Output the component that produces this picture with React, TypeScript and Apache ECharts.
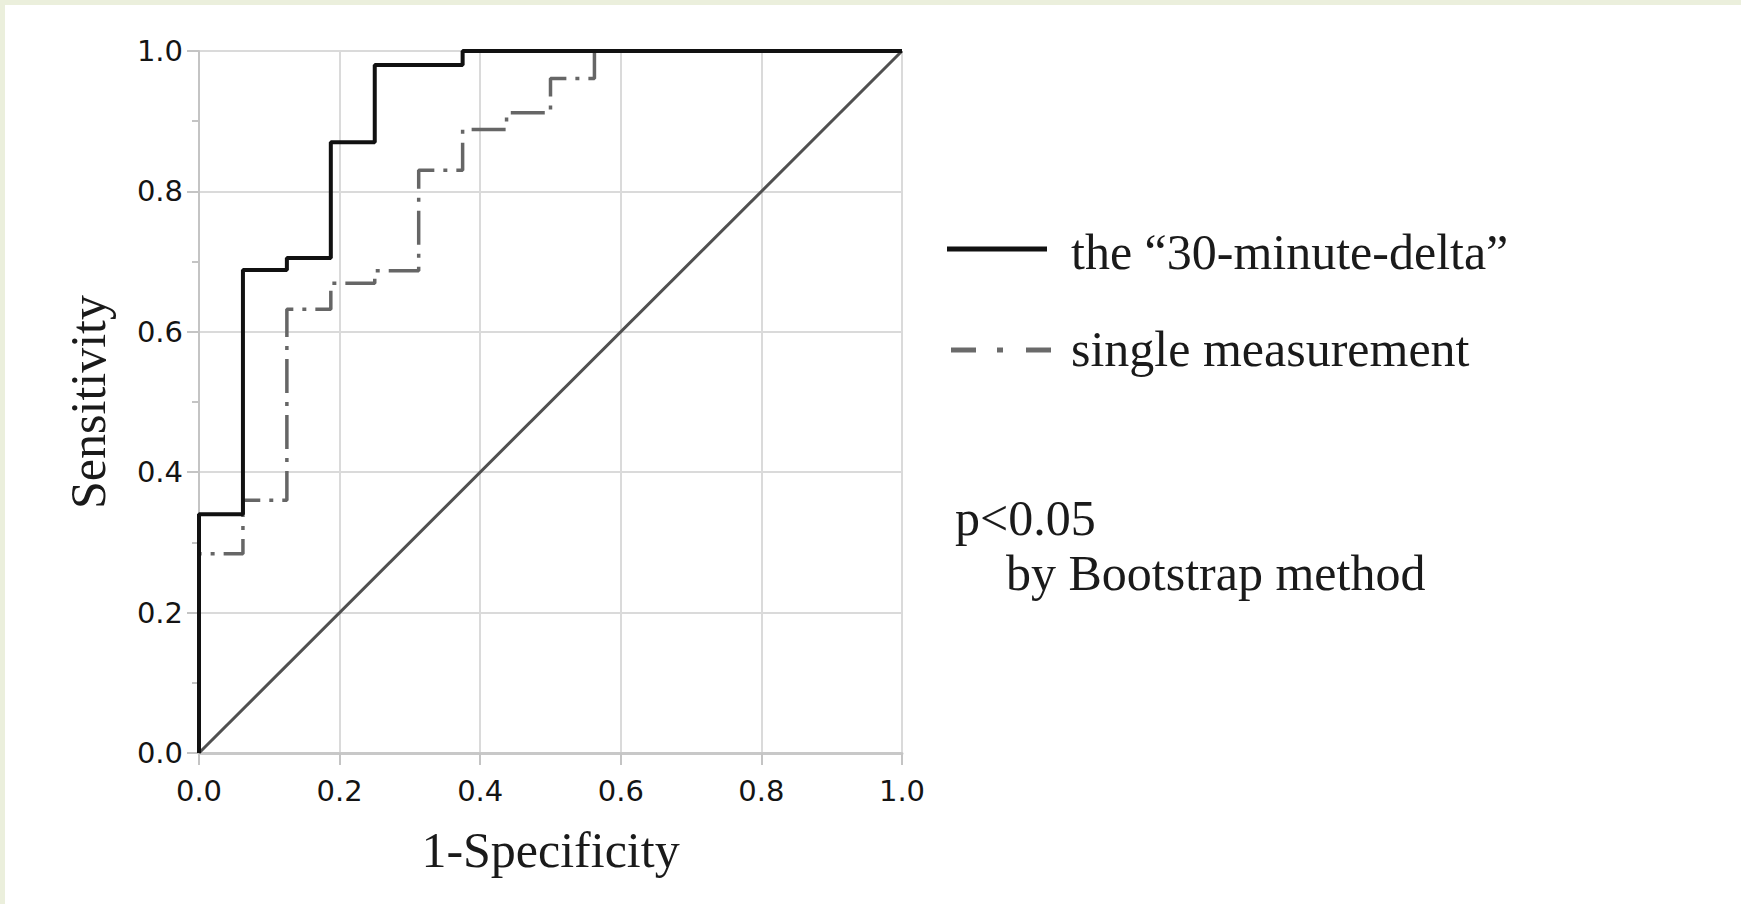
import React, { useEffect, useRef } from "react";
import * as echarts from "echarts";

// Axis ticks
const axisTicks = [0, 0.2, 0.4, 0.6, 0.8, 1.0];

// "30-minute-delta" ROC curve (1-Specificity, Sensitivity)
const deltaFpr = [0, 0, 0.0625, 0.0625, 0.125, 0.125, 0.1875, 0.1875, 0.25, 0.25, 0.375, 0.375, 1];
const deltaTpr = [0, 0.34, 0.34, 0.688, 0.688, 0.705, 0.705, 0.87, 0.87, 0.98, 0.98, 1, 1];

// single measurement ROC curve
const singleFpr = [0, 0, 0.0625, 0.0625, 0.125, 0.125, 0.1875, 0.1875, 0.25, 0.25, 0.3125, 0.3125, 0.375, 0.375, 0.4375, 0.4375, 0.5, 0.5, 0.5625, 0.5625, 1];
const singleTpr = [0, 0.284, 0.284, 0.36, 0.36, 0.632, 0.632, 0.669, 0.669, 0.687, 0.687, 0.83, 0.83, 0.888, 0.888, 0.912, 0.912, 0.961, 0.961, 1, 1];

// reference (chance) line
const refFpr = [0, 1];
const refTpr = [0, 1];

const seriesNames = ["the \u201C30-minute-delta\u201D", "single measurement"];
const noteLines = ["p<0.05", "by Bootstrap method"];

const SERIF = '"Liberation Serif", "Times New Roman", serif';
const SANS = '"DejaVu Sans", Verdana, sans-serif';

export default function App() {
  const ref = useRef<HTMLDivElement>(null);

  useEffect(() => {
    if (!ref.current) return;
    const chart = echarts.init(ref.current, null, { renderer: "svg" });
    const zip = (xs: number[], ys: number[]) => xs.map((x, i) => [x, ys[i]]);

    const axisCommon = {
      type: "value" as const,
      min: axisTicks[0],
      max: axisTicks[axisTicks.length - 1],
      interval: 0.2,
      axisLabel: {
        fontFamily: SANS,
        fontSize: 29,
        color: "#141414",
        formatter: (v: number) => v.toFixed(1),
      },
      axisTick: { show: true, inside: false, length: 12, lineStyle: { color: "#c4c4c4", width: 2 } },
      splitLine: { show: true, lineStyle: { color: "#dadada", width: 2 } },
      nameLocation: "middle" as const,
      nameTextStyle: { fontFamily: SERIF, fontSize: 50, color: "#1a1a1a" },
    };

    const option: any = {
      animation: false,
      backgroundColor: "transparent",
      grid: { left: 199, top: 51, width: 703, height: 702, containLabel: false },
      xAxis: {
        ...axisCommon,
        name: "1-Specificity",
        nameGap: 72,
        axisLabel: { ...axisCommon.axisLabel, margin: 23 },
        axisLine: { show: true, lineStyle: { color: "#c8c8c8", width: 3 } },
      },
      yAxis: {
        ...axisCommon,
        name: "Sensitivity",
        nameGap: 86,
        axisLabel: { ...axisCommon.axisLabel, margin: 16 },
        axisLine: { show: true, lineStyle: { color: "#c4c4c4", width: 2 } },
        minorTick: { show: true, splitNumber: 2, length: 7, lineStyle: { color: "#c4c4c4", width: 2 } },
      },
      series: [
        {
          type: "line",
          name: "reference",
          data: zip(refFpr, refTpr),
          symbol: "none",
          lineStyle: { color: "#505050", width: 3 },
          z: 2,
        },
        {
          type: "line",
          name: seriesNames[1],
          data: zip(singleFpr, singleTpr),
          symbol: "none",
          lineStyle: { color: "#666", width: 3.5, type: [34, 9, 4, 9], cap: "butt" },
          z: 3,
        },
        {
          type: "line",
          name: seriesNames[0],
          data: zip(deltaFpr, deltaTpr),
          symbol: "none",
          lineStyle: { color: "#111", width: 4 },
          z: 4,
        },
      ],
      graphic: [
        { type: "line", shape: { x1: 947, y1: 249, x2: 1047, y2: 249 }, style: { stroke: "#111", lineWidth: 5 } },
        { type: "line", shape: { x1: 951, y1: 350, x2: 976, y2: 350 }, style: { stroke: "#6a6a6a", lineWidth: 5 } },
        { type: "line", shape: { x1: 997, y1: 350, x2: 1003, y2: 350 }, style: { stroke: "#6a6a6a", lineWidth: 5 } },
        { type: "line", shape: { x1: 1026, y1: 350, x2: 1051, y2: 350 }, style: { stroke: "#6a6a6a", lineWidth: 5 } },
        {
          type: "text", x: 1071, y: 252,
          style: { text: seriesNames[0], font: `50px ${SERIF}`, fill: "#1a1a1a", verticalAlign: "middle", align: "left" },
        },
        {
          type: "text", x: 1071, y: 349,
          style: { text: seriesNames[1], font: `50px ${SERIF}`, fill: "#1a1a1a", verticalAlign: "middle", align: "left" },
        },
        {
          type: "text", x: 955, y: 518,
          style: { text: noteLines[0], font: `50px ${SERIF}`, fill: "#1a1a1a", verticalAlign: "middle", align: "left" },
        },
        {
          type: "text", x: 1006, y: 573,
          style: { text: noteLines[1], font: `50px ${SERIF}`, fill: "#1a1a1a", verticalAlign: "middle", align: "left" },
        },
      ],
    };
    chart.setOption(option);
    return () => chart.dispose();
  }, []);

  return (
    <div style={{ position: "fixed", left: 0, top: 0, width: 1741, height: 904, background: "#ebefdc", overflow: "hidden" }}>
      <div style={{ position: "absolute", left: 5, top: 5, right: 0, bottom: 0, background: "#ffffff" }} />
      <div ref={ref} style={{ position: "absolute", left: 0, top: 0, width: 1741, height: 904 }} />
    </div>
  );
}
